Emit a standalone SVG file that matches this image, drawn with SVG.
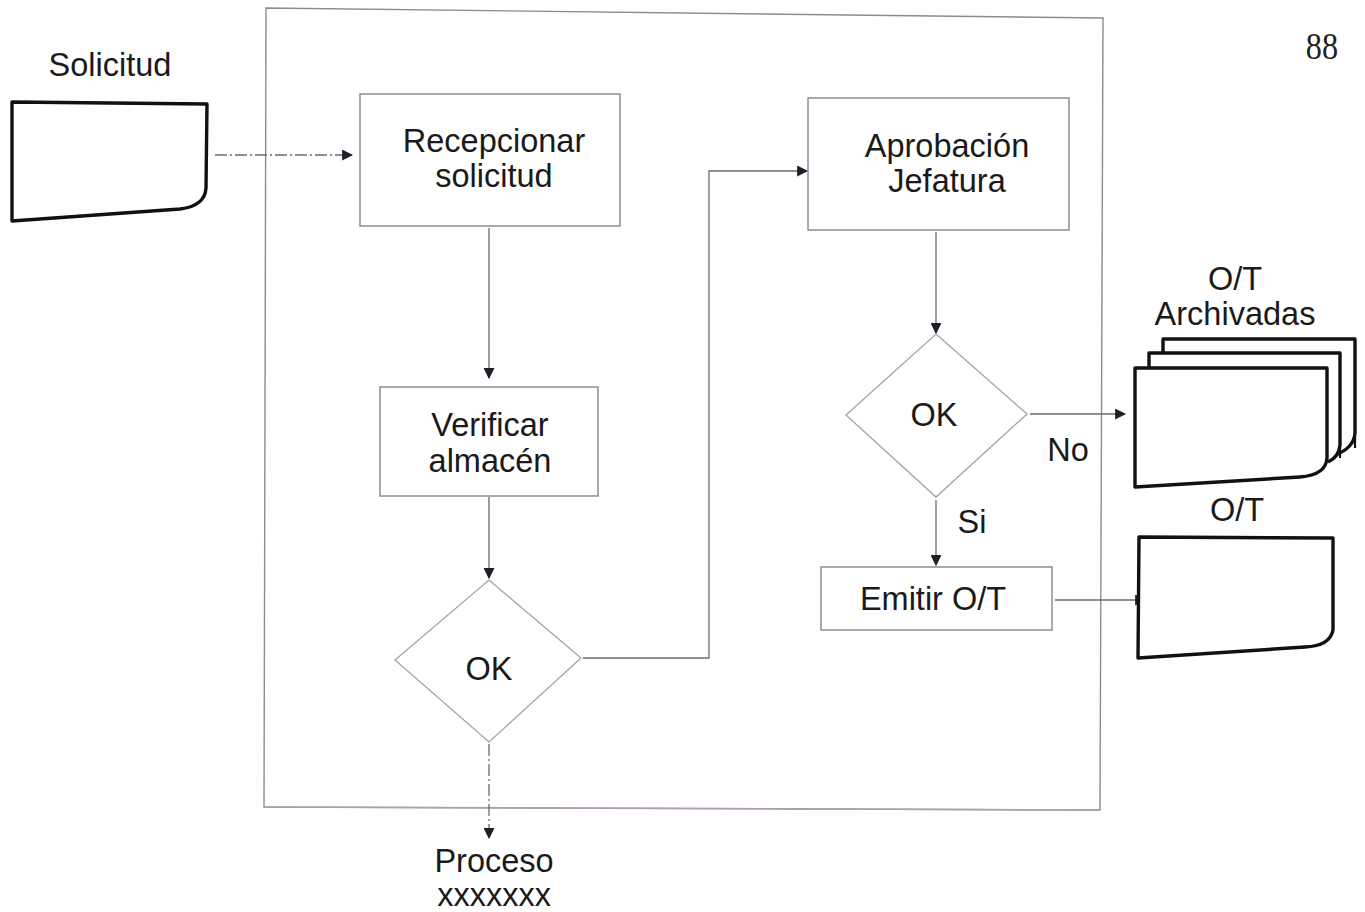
<svg xmlns="http://www.w3.org/2000/svg" width="1365" height="912" viewBox="0 0 1365 912">
  <defs>
    <style>
      .lbl { font-family: "Liberation Sans", Arial, sans-serif; font-size: 32.5px; fill: #1a1a1a; text-anchor: middle; }
      .box { fill: #ffffff; stroke: #8a8290; stroke-width: 1.4; }
      .dia { fill: #ffffff; stroke: #a9a0ac; stroke-width: 1.3; }
      .doc { fill: #ffffff; stroke: #111111; stroke-width: 3.4; stroke-linejoin: round; }
      .conn { fill: none; stroke: #6e6870; stroke-width: 1.3; }
      .dash { stroke-dasharray: 12 3 2 3; }
    </style>
    <marker id="arrow" viewBox="0 0 10 10" refX="9" refY="5" markerWidth="11" markerHeight="11" markerUnits="userSpaceOnUse" orient="auto">
      <path d="M0,0 L10,5 L0,10 z" fill="#1e1e28"/>
    </marker>
  </defs>

  <rect width="1365" height="912" fill="#ffffff"/>

  <!-- process frame -->
  <g id="frame">
    <path d="M266,8 L1103,18 L1100,810 L264,807 Z" fill="none" stroke="#8e8a90" stroke-width="1.4"/>
    <path d="M264,807 L1100,810" fill="none" stroke="#b39cb6" stroke-width="1.6"/>
  </g>

  <!-- page number -->
  <text x="1322" y="59" font-family="'Liberation Serif', 'Times New Roman', serif" font-size="38" fill="#222" text-anchor="middle" transform="translate(1322 0) scale(0.85 1) translate(-1322 0)">88</text>

  <!-- connectors -->
  <g id="connectors">
    <path class="conn dash" d="M215,155 H352" marker-end="url(#arrow)"/>
    <path class="conn" d="M489,228 V378" marker-end="url(#arrow)"/>
    <path class="conn" d="M489,497 V578" marker-end="url(#arrow)"/>
    <path class="conn" d="M583,658 H709 V171 H807" marker-end="url(#arrow)"/>
    <path class="conn dash" d="M489,744 V838" marker-end="url(#arrow)"/>
    <path class="conn" d="M936,232 V333" marker-end="url(#arrow)"/>
    <path class="conn" d="M1030,414 H1125" marker-end="url(#arrow)"/>
    <path class="conn" d="M936,500 V565" marker-end="url(#arrow)"/>
    <path class="conn" d="M1055,600 H1145" marker-end="url(#arrow)"/>
  </g>

  <!-- input document -->
  <g id="solicitud">
    <text class="lbl" x="110" y="76">Solicitud</text>
    <path class="doc" d="M12,102 L207,104 L206,188 Q205,206 180,209 L12,221 Z"/>
  </g>

  <g id="recepcionar">
    <rect class="box" x="360" y="94" width="260" height="132"/>
    <text class="lbl" x="494" y="152">Recepcionar</text>
    <text class="lbl" x="494" y="187">solicitud</text>
  </g>

  <g id="verificar">
    <rect class="box" x="380" y="387" width="218" height="109"/>
    <text class="lbl" x="490" y="436">Verificar</text>
    <text class="lbl" x="490" y="472">almacén</text>
  </g>

  <g id="decision1">
    <path class="dia" d="M489,580 L581,658 L489,742 L395,660 Z"/>
    <text class="lbl" x="489" y="680">OK</text>
  </g>

  <g id="aprobacion">
    <rect class="box" x="808" y="98" width="261" height="132"/>
    <text class="lbl" x="947" y="157">Aprobación</text>
    <text class="lbl" x="947" y="192">Jefatura</text>
  </g>

  <g id="decision2">
    <path class="dia" d="M936,334 L1027,414 L936,497 L846,415 Z" stroke="#b8a6bc"/>
    <text class="lbl" x="934" y="426">OK</text>
    <text class="lbl" x="1068" y="461">No</text>
    <text class="lbl" x="972" y="533">Si</text>
  </g>

  <g id="emitir">
    <rect class="box" x="821" y="567" width="231" height="63"/>
    <text class="lbl" x="933" y="610">Emitir O/T</text>
  </g>

  <!-- filed work orders (stack) -->
  <g id="archivadas">
    <text class="lbl" x="1235" y="290">O/T</text>
    <text class="lbl" x="1235" y="325">Archivadas</text>
    <path class="doc" d="M1163,368 V339 H1355 V433 Q1354,448 1335,455"/>
    <path class="doc" d="M1149,368 V353 H1340 V445 Q1339,457 1328,462"/>
    <path d="M1340,447 V458 M1355,436 V448" stroke="#111" stroke-width="2.2" fill="none"/>
    <path class="doc" d="M1135,368 H1327 V458 Q1326,475 1300,477 L1135,487 Z"/>
  </g>

  <!-- issued work order -->
  <g id="ot">
    <text class="lbl" x="1237" y="521">O/T</text>
    <path class="doc" d="M1139,537 L1333,538 L1333,630 Q1330,646 1305,647 L1138,658 Z"/>
  </g>

  <g id="proceso">
    <text class="lbl" x="494" y="872">Proceso</text>
    <text class="lbl" x="494" y="906">xxxxxxx</text>
  </g>
</svg>
